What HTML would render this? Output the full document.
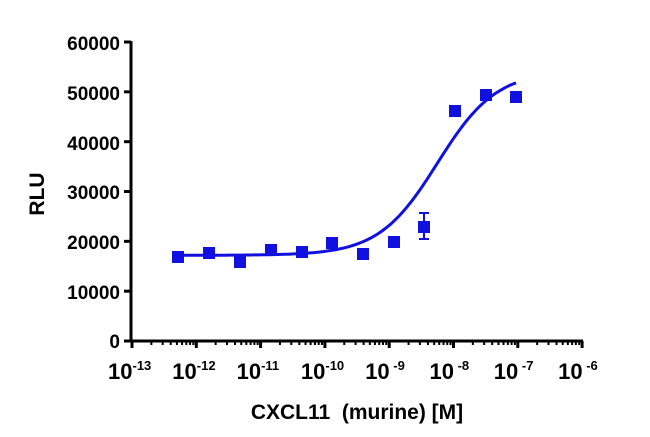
<!DOCTYPE html>
<html><head><style>body{margin:0;background:#fff}svg{display:block}</style></head><body>
<svg width="650" height="437" xmlns="http://www.w3.org/2000/svg" font-family="Liberation Sans, sans-serif" font-weight="bold">
<g id="ax" stroke="#000" stroke-width="3" fill="none">
<line x1="131" y1="41" x2="131" y2="342"/>
<line x1="130" y1="341" x2="583" y2="341"/>
</g>
<g id="t"></g>
<path id="c" fill="none" stroke="#1010e0" stroke-width="3"/>
<g id="p" fill="#1010e0"></g>
<g font-size="19" text-anchor="end" fill="#000">
<text x="120" y="50">60000</text><text x="120" y="100">50000</text><text x="120" y="150">40000</text><text x="120" y="199">30000</text><text x="120" y="249">20000</text><text x="120" y="299">10000</text><text x="120" y="348">0</text>
</g>
<g id="xl" font-size="22" fill="#000"></g>
<text x="44" y="194" font-size="21" text-anchor="middle" transform="rotate(-90 44 194)">RLU</text>
<text x="357" y="419" font-size="21" text-anchor="middle" xml:space="preserve">CXCL11  (murine) [M]</text>
<script>
var ns="http://www.w3.org/2000/svg";function el(t,a,p){var e=document.createElementNS(ns,t);for(var k in a)e.setAttribute(k,a[k]);p.appendChild(e);return e}
var X=function(l){return 132+(l+13)*64.3},Y=function(v){return 341-v*0.004983};
var g=document.getElementById('t');
for(var v=0;v<=60000;v+=10000)el('line',{x1:124,x2:131,y1:Y(v),y2:Y(v),stroke:'#000','stroke-width':3},g);
for(var d=-13;d<=-6;d++){el('line',{x1:X(d),x2:X(d),y1:341,y2:348,stroke:'#000','stroke-width':3},g);
 if(d<-6)for(var m=2;m<10;m++){var x=X(d+Math.log10(m));el('line',{x1:x,x2:x,y1:341,y2:345,stroke:'#000','stroke-width':2},g);}
 var t=el('text',{x:X(d)-24,y:379},document.getElementById('xl'));t.textContent='10';var s=el('tspan',{dy:-9,'font-size':13},t);s.textContent=(d>-10?' ':'')+d;}
var pts="";for(var x=178;x<=516;x+=2){var l=-13+(x-132)/64.3;var v=17200+37000/(1+Math.pow(10,0.95*(-8.25-l)));pts+=(pts?'L':'M')+x+' '+Y(v).toFixed(1);}
document.getElementById('c').setAttribute('d',pts);
var P=[[178,257],[209,253],[240,262],[271,250],[302,252],[332,243],[363,254],[394,242],[424,227],[455,111],[486,95],[516,97]],pg=document.getElementById('p');
P.forEach(function(q){el('rect',{x:q[0]-6,y:q[1]-6,width:12,height:12},pg)});
el('path',{d:'M424 213V239M419 213H429M419 239H429',stroke:'#1010e0','stroke-width':2,fill:'none'},pg);
</script>
</svg>
</body></html>
